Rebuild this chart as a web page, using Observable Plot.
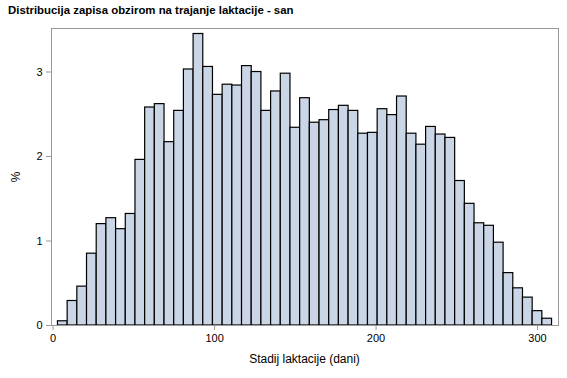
<!DOCTYPE html>
<html>
<head>
<meta charset="utf-8">
<script src="https://cdn.jsdelivr.net/npm/d3@7"></script>
<script src="https://cdn.jsdelivr.net/npm/@observablehq/plot@0.6"></script>
<style>
  html, body { margin: 0; padding: 0; background: #fff; }
  #wrap { position: relative; width: 567px; height: 378px; overflow: hidden; font-family: "Liberation Sans", Arial, sans-serif; }
  #title { position: absolute; left: 8px; top: 4px; font-weight: bold; font-size: 11.4px; color: #000; white-space: nowrap; }
  #xlabel { position: absolute; left: 0; width: 609px; top: 352px; text-align: center; font-size: 12px; color: #000; white-space: nowrap; }
  #ylabel { position: absolute; left: 16px; top: 177px; font-size: 12px; color: #000; transform: translate(-50%, -50%) rotate(-90deg); white-space: nowrap; }
  #chart { position: absolute; left: 0; top: 0; }
  svg { font-family: "Liberation Sans", Arial, sans-serif; }
  .tick line { stroke: #999; }
  g[aria-label="x-axis tick"] path, g[aria-label="y-axis tick"] path { stroke: #999; }
</style>
</head>
<body>
<div id="wrap">
  <div id="chart"></div>
  <div id="title"></div>
  <div id="xlabel"></div>
  <div id="ylabel"></div>
</div>
<script>
const titleText = "Distribucija zapisa obzirom na trajanje laktacije - san";
const xLabel = "Stadij laktacije (dani)";
const yLabel = "%";
const binWidth = 6;
const binStarts = [3, 9, 15, 21, 27, 33, 39, 45, 51, 57, 63, 69, 75, 81, 87, 93, 99, 105, 111, 117,
  123, 129, 135, 141, 147, 153, 159, 165, 171, 177, 183, 189, 195, 201, 207, 213, 219, 225, 231, 237,
  243, 249, 255, 261, 267, 273, 279, 285, 291, 297, 303];
const percents = [0.05, 0.29, 0.46, 0.85, 1.20, 1.27, 1.14, 1.32, 1.96, 2.58, 2.62, 2.17, 2.54, 3.03, 3.45, 3.06, 2.73, 2.85, 2.84, 3.07,
  3.00, 2.54, 2.77, 2.98, 2.34, 2.69, 2.40, 2.43, 2.55, 2.60, 2.54, 2.27, 2.28, 2.56, 2.49, 2.71, 2.27, 2.14, 2.35, 2.26,
  2.22, 1.71, 1.44, 1.21, 1.18, 0.98, 0.62, 0.44, 0.33, 0.17, 0.08];
const xTicks = [0, 100, 200, 300];
const yTicks = [0, 1, 2, 3];

document.getElementById("title").textContent = titleText;
document.getElementById("xlabel").textContent = xLabel;
document.getElementById("ylabel").textContent = yLabel;

const data = binStarts.map((s, i) => ({x1: s, x2: s + binWidth, y: percents[i]}));

const chart = Plot.plot({
  width: 567,
  height: 378,
  marginLeft: 51,
  marginRight: 9,
  marginTop: 28,
  marginBottom: 53,
  style: {fontSize: "11px", fontFamily: "'Liberation Sans', Arial, sans-serif", background: "#fff", color: "#000"},
  x: {domain: [-1, 313], ticks: xTicks, tickFormat: d => String(d), tickSize: 5, tickPadding: 4, label: null},
  y: {domain: [0, 3.515], ticks: yTicks, tickFormat: d => String(d), tickSize: 5, tickPadding: 4, label: null},
  marks: [
    Plot.rectY(data, {x1: "x1", x2: "x2", y: "y", fill: "#cad5e6", stroke: "#000", strokeWidth: 1.2, inset: 0}),
    Plot.frame({stroke: "#999"})
  ]
});
document.getElementById("chart").appendChild(chart);
</script>
</body>
</html>
